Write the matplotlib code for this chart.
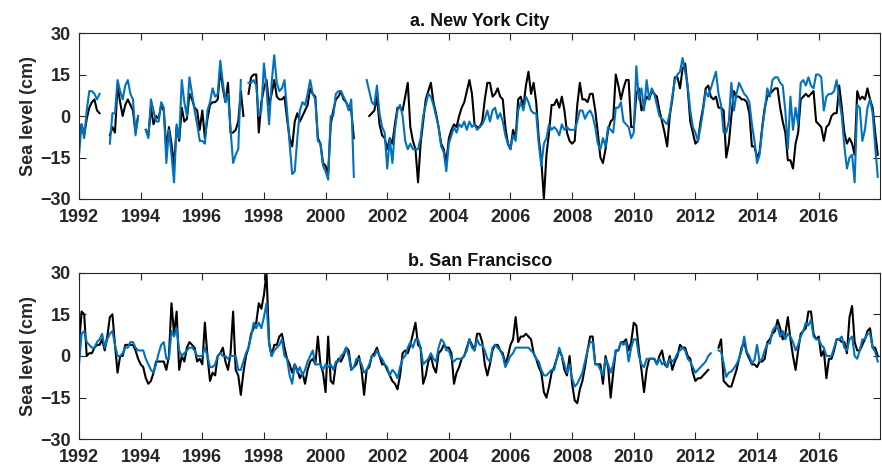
import numpy as np
import matplotlib
matplotlib.use('Agg')
import matplotlib.pyplot as plt

nan = np.nan

# monthly sea level anomalies (cm), Jan 1992 - Dec 2017, one row per year
nyc_gauge = [
    -8, -3, -7, -1, 3, 5, 6, 2, 1, nan, nan, nan,        # 1992
    -7, -4, -6, 11, 5, 0, 4, 6, 4, 2, -6, 0,              # 1993
    nan, nan, -5, -7, 3, -3, 0, -1, 4, 2, -12, -4,        # 1994
    -10, -18, -4, -9, 3, -2, -1, 8, 6, 3, 2, -5,          # 1995
    2, -8, -1, 4, 5, 5, 6, 17, 10, 5, 12, -6,             # 1996
    -6, -5, -2, 9, 0, nan, 8, 14, 15, 15, -6, 5,          # 1997
    10, 13, 4, 8, 13, 7, 6, 6, 7, -1, -8, -11,            # 1998
    -2, 1, -2, 0, 2, 4, 10, 8, 7, -8, -10, -17,           # 1999
    -18, -21, -3, 2, 6, 7, 9, 6, 5, 3, 2, -8,             # 2000
    nan, nan, nan, nan, nan, 0, 1, 2, 7, -3, -7, -8,      # 2001
    -12, -8, -10, -3, 3, 3, 2, 7, 12, -4, -9, -12,        # 2002
    -24, -10, -2, 6, 9, 12, 5, 1, -4, -10, -12, -17,      # 2003
    -8, -5, -3, -4, 0, 3, 5, 9, 13, 8, -3, -4,            # 2004
    -4, -2, 6, 12, 12, 7, 8, 10, 7, 6, -4, -10,           # 2005
    -12, -5, -8, 6, 7, 3, 11, 16, 8, 12, 5, -8,           # 2006
    -16, -30, -14, -6, 4, 4, 6, 3, 7, 2, -6, -9,          # 2007
    -10, -9, 4, 12, 6, 6, 5, 8, 8, 2, -6, -15,            # 2008
    -17, -12, -5, -2, -1, 15, 11, 6, 10, 13, 13, -4,      # 2009
    -4, 8, 10, 2, 4, 7, 6, 9, 8, 7, 2, -2,                # 2010
    -6, -11, 0, 6, 14, 14, 10, 17, 19, 10, -2, -6,        # 2011
    -10, -9, -2, 3, 10, 11, 7, 6, 7, 3, 3, 2,             # 2012
    -15, -10, 0, 9, 7, 7, 6, 6, 5, 1, -11, -11,           # 2013
    -15, -13, -4, 3, 7, 8, 9, 10, 10, 3, -2, -6,          # 2014
    -16, -16, -19, -10, -6, 6, 7, 8, 7, 8, 9, -2,         # 2015
    -3, -4, -9, -4, -3, 0, 1, 1, 11, 3, -6, -10,          # 2016
    -8, -10, -14, 9, 6, 7, 6, 10, 6, 3, -6, -14,          # 2017
]
nyc_altim = [
    -14, -3, -8, 2, 9, 9, 8, 6, 8, nan, nan, nan,         # 1992
    -10, 1, 1, 13, 9, 6, 11, 13, 8, 6, -7, 0,             # 1993
    nan, nan, -5, -8, 6, 2, -2, -2, 5, 3, -17, -5,        # 1994
    -14, -24, -3, -8, 13, 5, 0, 14, 8, 2, -3, -9,         # 1995
    -9, -10, 2, 5, 10, 7, 8, 20, 12, 5, 8, -5,            # 1996
    -17, -14, -12, 13, nan, nan, 12, 12, 13, 11, 0, 2,    # 1997
    19, 10, -3, 12, 22, 12, 9, 10, 13, 2, -10, -21,       # 1998
    -20, -8, 2, 5, 4, 8, 13, 8, 6, -9, -10, -18,          # 1999
    -20, -23, 0, 0, 8, 9, 9, 7, 5, 2, 6, -22,             # 2000
    nan, nan, nan, nan, 13, 9, 5, 4, 11, 1, -4, -6,       # 2001
    -19, -8, -17, -5, 2, 4, 0, -9, -12, -10, -12, -12,    # 2002
    -12, -8, 0, 4, 8, 7, 4, 0, -4, -11, -13, -20,         # 2003
    -10, -7, -4, -6, -3, -4, -2, -5, -2, -4, -3, -5,      # 2004
    -4, -3, -1, 2, -2, 2, 3, -1, 1, -2, -7, -10,          # 2005
    -12, -7, -9, 2, 5, 2, 7, 5, 2, 1, 1, -10,             # 2006
    -18, -10, -8, -3, -5, -4, -5, -7, -3, -5, -4, -5,     # 2007
    -5, -5, -2, 2, 2, -1, 1, 2, 0, -4, -10, -12,          # 2008
    -8, -11, -4, -5, -6, 3, 3, 5, -2, -3, -4, -8,         # 2009
    -6, 18, 6, 10, 2, 13, 6, 10, 8, 4, 0, -1,             # 2010
    -2, -3, 1, 7, 13, 15, 16, 21, 16, 11, 2, -4,          # 2011
    -6, -9, -4, 2, 9, 7, 10, 13, 16, 8, 4, -6,            # 2012
    -6, -2, 12, 2, 8, 12, 10, 8, 7, 5, -3, -9,            # 2013
    -17, -14, -5, 2, 10, 7, 13, 14, 14, 12, 11, 2,        # 2014
    -12, 7, -5, 3, -3, 12, 13, 11, 14, 11, 10, 15,        # 2015
    15, 14, 2, 7, 8, 8, 9, 13, 6, 0, -11, -19,            # 2016
    -15, -14, -24, 4, 3, -9, -5, 3, 6, 1, -11, -22,       # 2017
]
sf_gauge = [
    4, 16, 15, 0, 1, 1, 3, 4, 4, 6, 2, 7,                 # 1992
    14, 15, 4, -6, 0, 0, 4, 4, 4, 4, 2, -1,               # 1993
    -3, -4, -8, -10, -9, -6, -2, -2, -2, -2, -5, 0,       # 1994
    19, 8, 16, -5, 0, -2, 3, 5, 4, 3, -2, -1,             # 1995
    -3, 12, 0, -9, -6, -7, 0, 1, 3, -2, -5, 1,           # 1996
    16, -5, -7, -14, -6, 0, 3, 8, 10, 12, 19, 17,         # 1997
    22, 30, 5, 0, 4, 4, 7, 8, 3, -1, -3, -6,              # 1998
    -3, -5, -8, -6, -10, -5, -2, -1, -3, 7, -3, -6,       # 1999
    -13, 7, -9, -10, -3, -1, -2, 0, 3, 2, -5, -4,         # 2000
    -3, 0, -5, -14, -5, -4, 0, 1, 3, 0, -3, -3,           # 2001
    -5, -7, -9, -10, -12, -7, 1, 2, 1, 4, 8, 12,          # 2002
    4, 3, -10, -7, -2, 0, -4, -6, 1, 2, 4, 3,             # 2003
    3, 1, -10, -6, -4, -1, 0, 3, 6, 4, 2, 8,              # 2004
    8, 5, -3, -7, -3, 2, 4, 4, 2, 1, -3, 0,               # 2005
    4, 6, 14, 5, 7, 7, 8, 7, 6, 1, -1, -4,                # 2006
    -6, -13, -15, -11, -6, -4, -1, 2, 0, -5, -7, 0,       # 2007
    -10, -16, -17, -12, -9, -4, 2, 7, 7, -3, -3, -3,      # 2008
    -10, 0, -4, -15, -6, 2, 2, 5, 5, 6, 2, 5,             # 2009
    12, 11, 2, -5, -13, -5, -1, -1, -1, -3, 0, 2,         # 2010
    -3, -4, 0, -5, -2, 0, 4, 3, 3, 0, -1, -6,             # 2011
    -9, -8, -8, -7, -6, -5, nan, nan, nan, 3, 6, -9,      # 2012
    -10, -11, -11, -8, -5, -1, 3, 5, 1, -1, -3, -3,       # 2013
    -4, -2, -2, -1, 5, 6, 8, 9, 13, 10, 6, 8,             # 2014
    14, 6, 0, -5, 2, 8, 9, 10, 16, 16, 8, 6,              # 2015
    7, 0, 2, -8, -1, -1, 2, 6, 6, 5, 5, 1,                # 2016
    14, 18, 5, 2, 2, 4, 6, 9, 10, 3, 3, 0,                # 2017
]
sf_altim = [
    -3, 8, 9, 5, 4, 3, 3, 5, 6, 8, 3, 6,                  # 1992
    8, 9, 4, 0, 0, 1, 3, 3, 5, 5, 3, 2,                   # 1993
    2, 2, -1, -3, -5, -6, -3, 1, 4, 5, -1, -1,            # 1994
    9, 7, 10, 2, 0, 1, 2, 3, 3, 2, 0, 0,                  # 1995
    0, 3, 0, -4, -4, -3, 0, 1, 0, 0, -1, 0,               # 1996
    0, 0, -5, -5, -2, 1, 3, 7, 12, 10, 12, 10,            # 1997
    14, 19, 4, 0, 2, 3, 4, 6, 0, -1, -7, -10,             # 1998
    -3, -6, -4, -7, -5, -2, 0, 2, -3, -3, -3, -5,         # 1999
    -3, -4, -3, -5, -2, -2, 0, 1, 3, 0, -5, -4,           # 2000
    -1, -1, -3, -6, -5, -3, 0, 0, 2, 0, -1, -3,           # 2001
    -4, -7, -5, -6, -8, -4, -1, 0, 3, 5, 3, 6,            # 2002
    6, 3, -3, -2, -1, 1, -1, -2, 3, 6, 5, 2,              # 2003
    2, -1, -2, -1, -1, -1, 0, 2, 6, 3, 2, 6,              # 2004
    4, 4, 2, -1, -2, 3, 4, 3, 2, 0, -4, -2,               # 2005
    0, 1, 3, 3, 3, 3, 3, 3, 2, 1, -1, -2,                 # 2006
    -5, -7, -7, -6, -5, -5, -1, 3, 0, -3, -6, -3,         # 2007
    -8, -11, -10, -8, -6, -2, 2, 5, 5, -3, -3, -5,        # 2008
    -7, -1, -3, -6, -3, 2, 2, 5, 4, 5, -2, 3,             # 2009
    6, 6, 0, -3, -4, -1, -1, -1, -1, -3, -1, -3,          # 2010
    -2, -4, -1, -2, -1, 1, 2, 3, 2, -1, -2, -4,           # 2011
    -6, -5, -4, -3, -2, 0, 1, nan, nan, 2, 1.5, -2.6,     # 2012
    -7.5, -6, -5.6, -4.4, -3, -1, 2, 7, 1.5, 0, -2.6, -1.4,  # 2013
    4, -2, -1, 2, 4.5, 4.5, 9, 10.5, 10.5, 7, 9, 6,       # 2014
    8, 7, 5, 2, 4, 7, 9, 12, 11, 13, 7, 6,                # 2015
    6, 4, 3, 0, 0, 0, 3, 6, 6, 7, 3, 2,                   # 2016
    6, 7, 0, -1, 2, 6, 6, 8, 8, 3, 1.5, -2,               # 2017
]

panels = [('a. New York City', nyc_gauge, nyc_altim),
          ('b. San Francisco', sf_gauge, sf_altim)]
year_ticks = list(range(1992, 2017, 2))
level_ticks = [-30, -15, 0, 15, 30]

plt.rcParams['font.family'] = ['Liberation Sans', 'DejaVu Sans']
plt.rcParams['font.weight'] = 'bold'
plt.rcParams['axes.titleweight'] = 'bold'
plt.rcParams['axes.labelweight'] = 'bold'

axcol = '#262626'
fig = plt.figure(figsize=(8.82, 4.69), dpi=100)
boxes = [[0.0896, 0.5757, 0.9085, 0.3539], [0.0896, 0.0633, 0.9085, 0.3553]]

for box, (title, gauge, altim) in zip(boxes, panels):
    ax = fig.add_axes(box)
    gauge = np.array(gauge, dtype=float)
    altim = np.array(altim, dtype=float)
    t = 1992 + np.arange(len(gauge)) / 12.0
    ax.plot(t, gauge, color='k', lw=1.5)
    ax.plot(t, altim, color='#0072BD', lw=1.5)
    ax.set_xlim(1992, 2018)
    ax.set_ylim(-30, 30)
    ax.set_xticks(year_ticks)
    ax.set_yticks(level_ticks)
    ax.tick_params(direction='in', top=True, right=True, length=5,
                   width=0.8, colors=axcol, labelsize=13)
    ax.tick_params(axis='x', pad=7)
    ax.tick_params(axis='y', pad=6)
    for s in ax.spines.values():
        s.set_color(axcol)
        s.set_linewidth(0.8)
    ax.set_title(title, fontsize=13, color='#111111', pad=5)
    ax.set_ylabel('Sea level (cm)', fontsize=13, color=axcol, labelpad=2)

fig.savefig('out.png', dpi=100)
